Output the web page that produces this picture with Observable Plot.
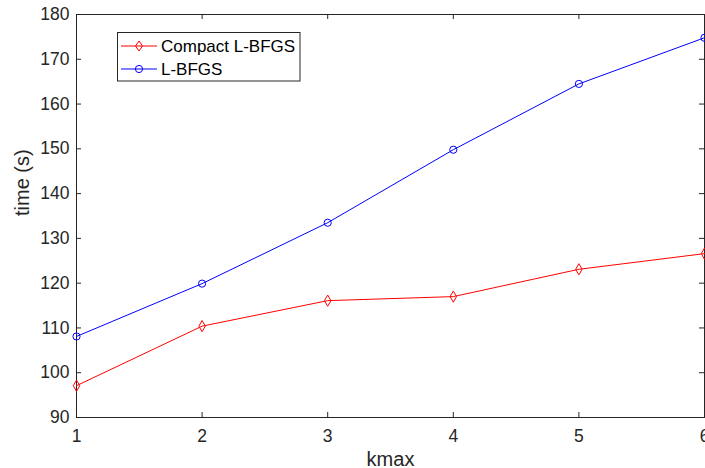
<!DOCTYPE html>
<html>
<head>
<meta charset="utf-8">
<script src="https://cdn.jsdelivr.net/npm/d3@7"></script>
<script src="https://cdn.jsdelivr.net/npm/@observablehq/plot@0.6"></script>
<style>
  html, body { margin: 0; padding: 0; background: #fff; overflow: hidden; }
  #wrap { position: relative; width: 705px; height: 468px; }
</style>
</head>
<body>
<div id="wrap"></div>
<script>
const kmax = [1, 2, 3, 4, 5, 6];
const compactLBFGS = [97.1, 110.4, 116.1, 117.0, 123.1, 126.6];
const lbfgs = [108.1, 119.9, 133.5, 149.8, 164.5, 174.8];
const xTicks = [1, 2, 3, 4, 5, 6];
const yTicks = [90, 100, 110, 120, 130, 140, 150, 160, 170, 180];
const seriesNames = ["Compact L-BFGS", "L-BFGS"];
const seriesColors = ["#ff0000", "#0000ff"];

const rows = [];
kmax.forEach((k, i) => {
  rows.push({k, t: compactLBFGS[i], s: seriesNames[0]});
  rows.push({k, t: lbfgs[i], s: seriesNames[1]});
});
const red = rows.filter(d => d.s === seriesNames[0]);
const blue = rows.filter(d => d.s === seriesNames[1]);

const W = 705, H = 468, mL = 76, mR = 1, mT = 14, mB = 51;
const pw = W - mL - mR, ph = H - mT - mB;
const axisCol = "#262626";
const font = "'Liberation Sans', Arial, Helvetica, sans-serif";

const chart = Plot.plot({
  width: W, height: H,
  marginLeft: mL, marginRight: mR, marginTop: mT, marginBottom: mB,
  style: {fontFamily: font, background: "#fff", overflow: "hidden"},
  x: {domain: [1, 6]},
  y: {domain: [90, 180]},
  marks: [
    Plot.frame({stroke: axisCol, strokeWidth: 1}),
    Plot.tickX(xTicks, {x: d => d, insetTop: ph - 5, stroke: axisCol}),
    Plot.tickX(xTicks, {x: d => d, insetBottom: ph - 5, stroke: axisCol}),
    Plot.tickY(yTicks, {y: d => d, insetRight: pw - 5, stroke: axisCol}),
    Plot.tickY(yTicks, {y: d => d, insetLeft: pw - 5, stroke: axisCol}),
    Plot.axisX(xTicks, {tickSize: 0, tickPadding: 12, fontSize: 17.5, fill: axisCol, label: null, tickFormat: d => String(d)}),
    Plot.axisY(yTicks, {tickSize: 0, tickPadding: 7, fontSize: 17.5, fill: axisCol, label: null, tickFormat: d => String(d)}),
    Plot.line(red, {x: "k", y: "t", stroke: seriesColors[0], strokeWidth: 1}),
    Plot.line(blue, {x: "k", y: "t", stroke: seriesColors[1], strokeWidth: 1}),
    Plot.dot(red, {x: "k", y: "t", symbol: "diamond", r: 3.4, stroke: seriesColors[0], fill: "none", strokeWidth: 1}),
    Plot.dot(blue, {x: "k", y: "t", symbol: "circle", r: 3.6, stroke: seriesColors[1], fill: "none", strokeWidth: 1}),
    Plot.text(["kmax"], {frameAnchor: "bottom", lineAnchor: "bottom", dy: 48, fontSize: 20, fill: axisCol}),
    Plot.text(["time (s)"], {frameAnchor: "left", rotate: -90, dx: -54, fontSize: 20, fill: axisCol})
  ]
});
document.getElementById("wrap").appendChild(chart);

// legend overlay
const lg = d3.select("#wrap").append("svg")
  .attr("width", W).attr("height", H)
  .style("position", "absolute").style("left", "0px").style("top", "0px");
lg.append("rect").attr("x", 117.5).attr("y", 32.5).attr("width", 182.5).attr("height", 48.5)
  .attr("fill", "#fff").attr("stroke", axisCol).attr("stroke-width", 1);
const rowsY = [46, 69];
seriesNames.forEach((name, i) => {
  const g = lg.append("g");
  g.append("line").attr("x1", 121).attr("x2", 157).attr("y1", rowsY[i]).attr("y2", rowsY[i])
    .attr("stroke", seriesColors[i]).attr("stroke-width", 1);
  if (i === 0) {
    g.append("path").attr("d", `M139,${rowsY[i]-5}L142.5,${rowsY[i]}L139,${rowsY[i]+5}L135.5,${rowsY[i]}Z`)
      .attr("fill", "none").attr("stroke", seriesColors[i]);
  } else {
    g.append("circle").attr("cx", 139).attr("cy", rowsY[i]).attr("r", 3.6)
      .attr("fill", "none").attr("stroke", seriesColors[i]);
  }
  g.append("text").attr("x", 161).attr("y", rowsY[i]).attr("dy", "0.35em")
    .attr("font-family", font).attr("font-size", 17).attr("fill", "#000").text(name);
});
</script>
</body>
</html>
